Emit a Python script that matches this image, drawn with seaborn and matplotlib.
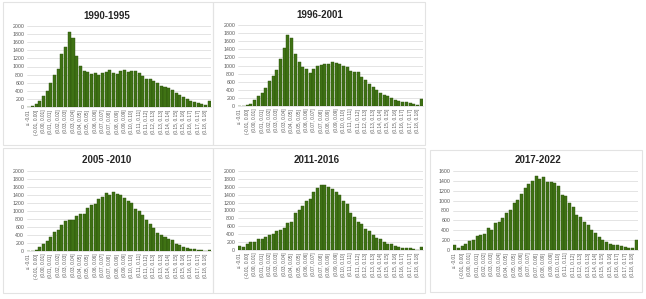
import numpy as np
import matplotlib
matplotlib.use("Agg")
import matplotlib.pyplot as plt
from matplotlib.patches import Rectangle
import seaborn as sns

# bin labels (only every other one is printed on the axis, like in Excel)
bin_labels = ["≤ -0.01", "(-0.01, -0.01]", "(-0.01, 0.00]", "(0.00, 0.00]", "(0.00, 0.01]",
              "(0.01, 0.01]", "(0.01, 0.01]", "(0.01, 0.02]", "(0.02, 0.02]", "(0.02, 0.03]",
              "(0.03, 0.03]", "(0.03, 0.03]", "(0.03, 0.04]", "(0.04, 0.04]", "(0.04, 0.05]",
              "(0.05, 0.05]", "(0.05, 0.05]", "(0.05, 0.06]", "(0.06, 0.06]", "(0.06, 0.07]",
              "(0.07, 0.07]", "(0.07, 0.07]", "(0.07, 0.08]", "(0.08, 0.08]", "(0.08, 0.09]",
              "(0.09, 0.09]", "(0.09, 0.09]", "(0.09, 0.10]", "(0.10, 0.10]", "(0.10, 0.11]",
              "(0.11, 0.11]", "(0.11, 0.11]", "(0.11, 0.12]", "(0.12, 0.12]", "(0.12, 0.13]",
              "(0.13, 0.13]", "(0.13, 0.13]", "(0.13, 0.14]", "(0.14, 0.14]", "(0.14, 0.15]",
              "(0.15, 0.15]", "(0.15, 0.15]", "(0.15, 0.16]", "(0.16, 0.16]", "(0.16, 0.17]",
              "(0.17, 0.17]", "(0.17, 0.17]", "(0.17, 0.18]", "(0.18, 0.18]", "> 0.18"]

counts_1990 = [10, 30, 70, 150, 270, 390, 600, 800, 950, 1320,
               1470, 1850, 1700, 1270, 1020, 890, 860, 820, 850, 800,
               830, 860, 920, 850, 820, 900, 920, 860, 900, 880,
               830, 760, 700, 700, 640, 600, 520, 500, 480, 420,
               350, 300, 240, 190, 150, 130, 100, 70, 60, 150]
counts_1996 = [0, 10, 20, 60, 140, 240, 320, 450, 620, 730,
               900, 1170, 1420, 1750, 1690, 1280, 1080, 960, 910, 820,
               920, 980, 1020, 1030, 1040, 1080, 1050, 1040, 1000, 960,
               860, 830, 830, 720, 640, 540, 480, 390, 310, 280,
               240, 190, 160, 120, 100, 110, 80, 60, 30, 170]
counts_2005 = [0, 10, 30, 90, 170, 240, 350, 470, 520, 640,
               740, 770, 780, 880, 930, 930, 1070, 1140, 1180, 1290,
               1350, 1460, 1400, 1480, 1430, 1400, 1330, 1260, 1200, 1050,
               990, 900, 780, 680, 570, 450, 390, 340, 290, 270,
               180, 150, 110, 80, 60, 40, 20, 20, 10, 20]
counts_2011 = [90, 70, 150, 190, 200, 270, 280, 330, 390, 410,
               470, 500, 550, 680, 720, 930, 1020, 1120, 1230, 1300,
               1480, 1580, 1640, 1640, 1600, 1550, 1470, 1400, 1230, 1160,
               930, 840, 710, 660, 540, 480, 380, 300, 290, 190,
               160, 140, 100, 70, 50, 40, 40, 20, 10, 80]
counts_2017 = [110, 50, 90, 130, 180, 210, 280, 310, 320, 450,
               410, 540, 570, 650, 750, 810, 950, 1020, 1130, 1250,
               1330, 1390, 1500, 1440, 1470, 1380, 1380, 1360, 1300, 1120,
               1100, 960, 880, 710, 660, 560, 500, 410, 350, 260,
               210, 170, 120, 110, 100, 90, 70, 40, 50, 200]

titles = ["1990-1995", "1996-2001", "2005 -2010", "2011-2016", "2017-2022"]
ymaxes = [2000, 2000, 2000, 2000, 1600]

sns.set_style("white")
plt.rcParams["font.family"] = ["Liberation Sans", "DejaVu Sans"]

W, H = 646, 299
fig = plt.figure(figsize=(W / 100, H / 100), dpi=100)

def px_rect(l, t, w, h):
    return [l / W, 1 - (t + h) / H, w / W, h / H]

# chart boxes (pixels): left, top, width, height
boxes = [(3, 2, 210, 143), (213, 2, 212, 143), (3, 148, 210, 145),
         (213, 148, 212, 145), (430, 150, 212, 142)]
# plot areas
areas = [(27, 26, 184, 81), (238, 25, 185, 81), (27, 171, 184, 80),
         (238, 171, 185, 79), (453, 171, 185, 79)]
title_pos = [(107, 16), (320, 15), (107, 160), (317, 160), (538, 160)]

for bx in boxes:
    l, t, w, h = bx
    fig.patches.append(Rectangle((l / W, 1 - (t + h) / H), w / W, h / H,
                                 transform=fig.transFigure, fill=False,
                                 edgecolor="#e3e3e3", linewidth=0.8))

all_counts = [counts_1990, counts_1996, counts_2005, counts_2011, counts_2017]
for i, counts in enumerate(all_counts):
    ax = fig.add_axes(px_rect(*areas[i]))
    idx = np.arange(len(counts))
    sns.barplot(x=idx, y=counts, ax=ax, color="#3f7214", saturation=1,
                width=0.82, edgecolor="#2b500b", linewidth=0.3, zorder=3)
    ax.set_xlim(-0.5, len(counts) - 0.5)
    ax.set_ylim(0, ymaxes[i])
    ax.set_yticks(np.arange(0, ymaxes[i] + 1, 200))
    ax.tick_params(axis="y", labelsize=3.8, colors="#595959", length=0, pad=2)
    ax.set_xticks(idx[::2])
    ax.set_xticklabels(bin_labels[::2], rotation=90)
    ax.tick_params(axis="x", labelsize=3.4, colors="#595959", length=0, pad=2)
    ax.grid(axis="y", color="#d9d9d9", linewidth=0.5, zorder=0)
    ax.set_axisbelow(True)
    for s in ["top", "right", "left"]:
        ax.spines[s].set_visible(False)
    ax.spines["bottom"].set_color("#d9d9d9")
    ax.spines["bottom"].set_linewidth(0.5)
    ax.set_xlabel("")
    ax.set_ylabel("")
    tx, ty = title_pos[i]
    fig.text(tx / W, 1 - ty / H, titles[i], ha="center", va="center",
             fontsize=7, fontweight="bold", color="#262626")

fig.savefig("out.png", dpi=100)
